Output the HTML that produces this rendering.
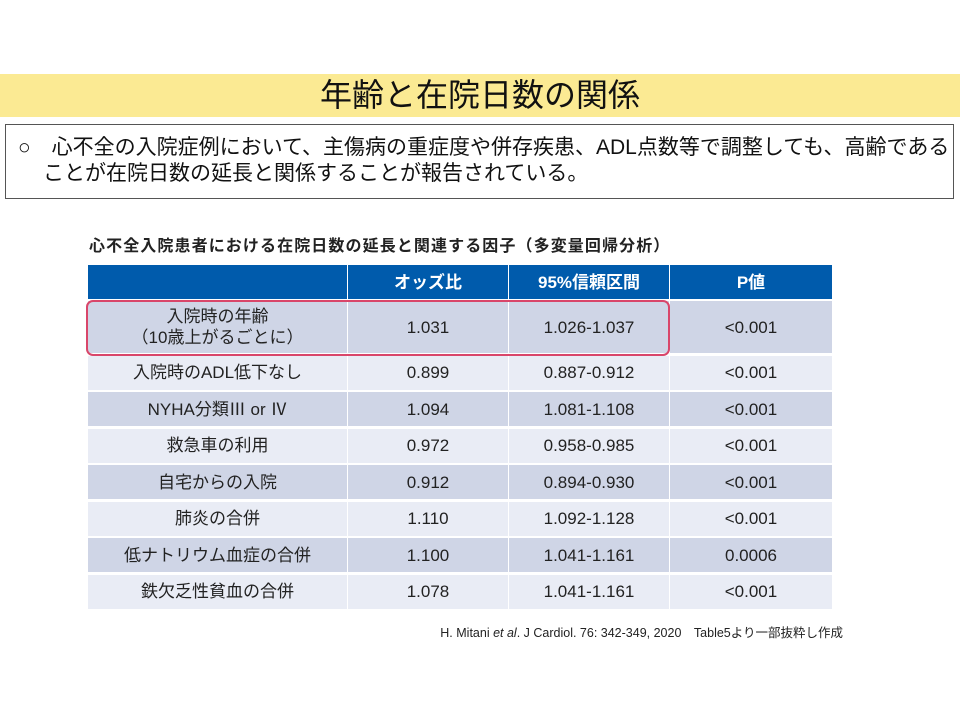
<!DOCTYPE html>
<html><head><meta charset="utf-8">
<style>
body{margin:0;width:960px;height:720px;background:#fff;position:relative;overflow:hidden;font-family:"Liberation Sans","Noto Sans CJK JP",sans-serif;color:#222}
.abs{position:absolute}
.cell{position:absolute;display:flex;align-items:center;justify-content:center;text-align:center;font-size:17px;line-height:21px}
.hd{background:#005bac;color:#fff;font-weight:bold;font-size:17px}
.lt{background:#e9ecf5}
.dk{background:#cfd5e6}
</style></head><body>
<div class="abs" style="left:0;top:74px;width:960px;height:43px;background:#fbea93"></div>
<div class="abs" style="left:0;top:74px;width:960px;height:43px;line-height:43px;text-align:center;font-size:32px;color:#111">年齢と在院日数の関係</div>
<div class="abs" style="left:5px;top:124px;width:947px;height:73px;border:1.5px solid #555;font-size:21px;line-height:26px;color:#111">
<div style="position:absolute;left:12px;top:10px;white-space:nowrap">○　心不全の入院症例において、主傷病の重症度や併存疾患、ADL点数等で調整しても、高齢である</div>
<div style="position:absolute;left:37px;top:36px;white-space:nowrap">ことが在院日数の延長と関係することが報告されている。</div>
</div>
<div class="abs" style="left:89px;top:232px;font-size:16px;letter-spacing:1.1px;font-weight:bold;white-space:nowrap">心不全入院患者における在院日数の延長と関連する因子（多変量回帰分析）</div>
<div id="tbl"></div>
<div class="abs" style="left:86px;top:300px;width:580px;height:52px;border:2.5px solid #d9466a;border-radius:7px"></div>
<div class="abs" style="left:400px;top:622px;width:443px;text-align:right;font-size:12.5px;white-space:nowrap">H. Mitani <i>et al</i>. J Cardiol. 76: 342-349, 2020　Table5より一部抜粋し作成</div>
<script>
const factors=["入院時の年齢<br>（10歳上がるごとに）","入院時のADL低下なし","NYHA分類Ⅲ or Ⅳ","救急車の利用","自宅からの入院","肺炎の合併","低ナトリウム血症の合併","鉄欠乏性貧血の合併"];
const oddsRatios=["1.031","0.899","1.094","0.972","0.912","1.110","1.100","1.078"];
const ci=["1.026-1.037","0.887-0.912","1.081-1.108","0.958-0.985","0.894-0.930","1.092-1.128","1.041-1.161","1.041-1.161"];
const pvals=["<0.001","<0.001","<0.001","<0.001","<0.001","<0.001","0.0006","<0.001"];
const headers=["","オッズ比","95%信頼区間","P値"];
const t=document.getElementById('tbl');
const colX=[88,348,509,670],colW=[259,160,160,162];
function mk(x,y,w,h,cls,html,name){const d=document.createElement('div');d.className='cell '+cls;d.style.left=x+'px';d.style.top=y+'px';d.style.width=w+'px';d.style.height=h+'px';d.innerHTML=html;


t.appendChild(d);}
headers.forEach((h,i)=>mk(colX[i],265,colW[i],34,'hd',h,'header-cell'));
let y=301;
factors.forEach((f,r)=>{const h=r===0?52:34;const cls=r%2===0?'dk':'lt';
const vals=[f,oddsRatios[r],ci[r],pvals[r].replace('<','&lt;')];
vals.forEach((v,i)=>mk(colX[i],y,colW[i],h,cls,v,i===0?'factor-cell':'value-cell'));
y+=h+2.5;});
</script>
</body></html>
